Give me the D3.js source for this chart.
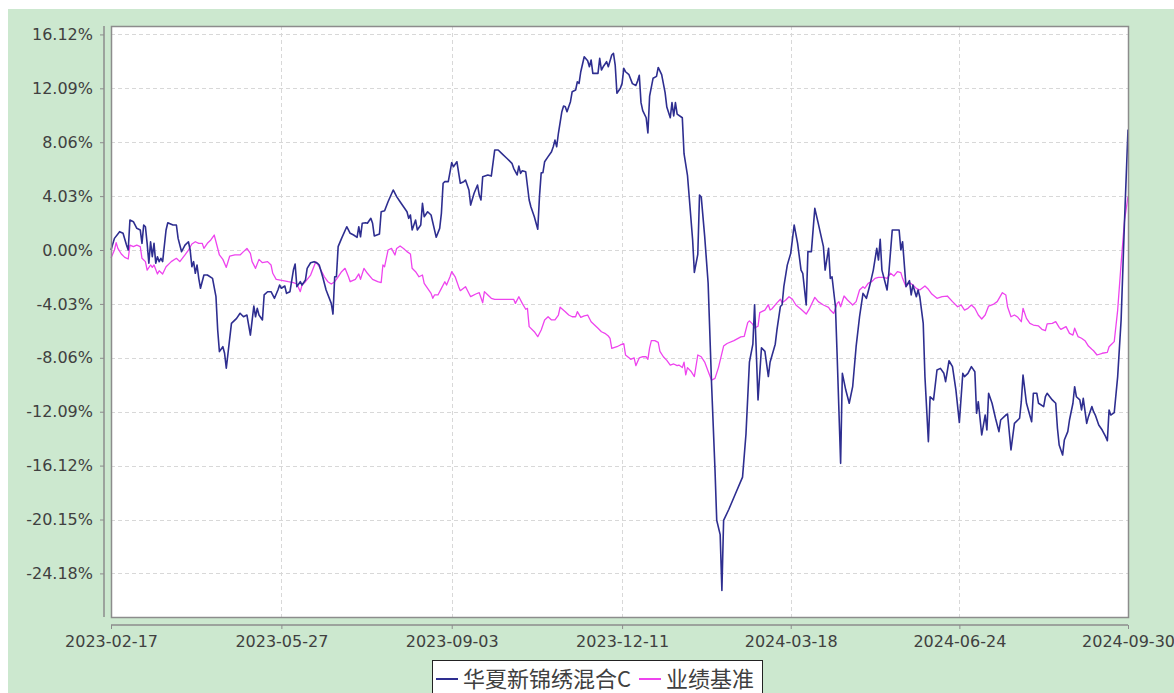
<!DOCTYPE html>
<html>
<head>
<meta charset="utf-8">
<script src="https://cdn.jsdelivr.net/npm/d3@7"></script>
<style>
  html, body { margin: 0; padding: 0; background: #fff; }
  svg { display: block; }
</style>
</head>
<body>
<svg id="chart" width="1174" height="693"></svg>
<script>
// series: [day offset from start, return %]
var startDate = '2023-02-17';
var endDate = '2024-09-30';
var seriesNames = ['华夏新锦绣混合C', '业绩基准'];
var yTicks = [16.12, 12.09, 8.06, 4.03, 0, -4.03, -8.06, -12.09, -16.12, -20.15, -24.18];
var xTickLabels = ['2023-02-17', '2023-05-27', '2023-09-03', '2023-12-11', '2024-03-18', '2024-06-24', '2024-09-30'];

var fundPoints = [
  [0,0.0],[2,0.87],[5,1.37],[7,1.25],[9,0.37],[10,0],[11,2.24],[13,2.12],[15,1.62],[17,1.5],
  [18,0.5],[19,1.87],[20,1.74],[21,0.5],[22,-0.99],[23,0.62],[24,-0.5],[25,0.5],[26,-0.99],[27,-0.5],
  [28,-0.87],[29,-0.62],[30,-0.87],[32,1.5],[33,2.04],[36,1.87],[38,1.87],[39,0.87],[41,-0.13],[43,0.37],
  [45,0.62],[46,0],[47,-1.25],[48,-0.87],[49,-1.74],[50,-1.12],[51,-2.12],[52,-2.86],[54,-1.87],[56,-1.87],
  [59,-2.12],[61,-3.49],[62,-5.98],[63,-7.6],[65,-7.23],[66,-7.72],[67,-8.84],[68,-7.72],[70,-5.48],[73,-5.11],
  [75,-4.73],[77,-4.99],[79,-4.86],[81,-6.36],[83,-4.19],[84,-4.99],[85,-4.36],[86,-4.86],[88,-5.23],[89,-3.36],
  [91,-3.12],[93,-3.12],[95,-3.61],[97,-2.99],[98,-2.62],[99,-2.86],[101,-2.69],[102,-3.24],[104,-3.12],[106,-1.5],
  [107,-1.05],[108,-2.74],[110,-2.37],[111,-2.62],[113,-2.24],[114,-1.37],[116,-0.95],[118,-0.87],[120,-0.99],[121,-1.12],
  [123,-2.0],[125,-2.99],[128,-3.99],[129,-4.79],[130,-2.0],[131,-2.0],[132,0.25],[134,0.87],[137,1.74],[139,1.25],
  [141,1.12],[143,0.95],[144,1.74],[145,0.99],[146,2.0],[148,2.04],[149,2.0],[151,2.37],[152,2.0],[153,1.05],
  [156,1.2],[157,2.86],[159,2.94],[161,3.61],[164,4.49],[166,3.99],[168,3.61],[170,3.24],[172,2.86],[173,2.37],
  [174,2.62],[175,1.5],[177,2.24],[178,1.5],[180,1.87],[181,3.49],[182,2.49],[184,2.86],[186,2.62],[189,0.95],
  [191,1.62],[192,2.74],[193,4.99],[194,5.11],[196,5.11],[198,6.53],[199,6.23],[201,6.6],[203,4.99],[205,5.11],
  [206,5.23],[208,4.49],[209,3.36],[211,4.24],[213,4.86],[214,4.11],[215,3.74],[216,5.48],[219,5.61],[221,5.53],
  [223,7.48],[225,7.48],[227,7.23],[230,6.86],[233,6.48],[234,6.11],[236,5.61],[237,6.28],[238,5.73],[239,5.93],
  [241,5.85],[243,3.74],[244,3.24],[246,2.49],[248,1.55],[249,3.99],[250,5.78],[251,5.78],[252,6.6],[254,6.98],
  [256,7.35],[257,7.72],[258,8.22],[259,7.72],[260,8.73],[262,10.34],[263,10.77],[264,10.71],[265,10.34],[267,11.09],
  [268,11.84],[270,11.96],[271,12.58],[272,12.46],[273,13.33],[275,14.45],[277,14.15],[278,13.7],[279,14.21],[280,13.21],
  [283,13.21],[284,14.33],[285,13.46],[286,13.7],[288,14.08],[289,13.7],[291,14.58],[292,14.71],[293,13.83],[294,11.72],
  [296,12.09],[297,12.46],[298,13.58],[299,13.33],[301,13.11],[303,12.44],[305,12.3],[306,12.63],[307,13.06],[308,11.02],
  [309,10.42],[311,9.89],[312,8.76],[313,11.5],[315,12.84],[317,12.98],[318,13.65],[320,13.11],[322,11.77],[323,10.69],
  [325,9.89],[326,11.02],[327,10.02],[328,11.02],[329,10.16],[332,9.89],[333,7.2],[335,5.59],[336,3.98],[338,0.75],
  [339,-1.67],[341,-0.32],[342,4.11],[343,3.97],[345,1.02],[347,-2.47],[349,-10.0],[351,-16.45],[352,-20.21],[354,-21.28],
  [355,-25.45],[356,-20.21],[359,-19.4],[363,-18.19],[367,-16.98],[369,-13.76],[371,-8.39],[373,-7.04],[374,-4.09],[376,-11.21],
  [378,-7.31],[380,-7.58],[382,-9.46],[383,-8.39],[386,-7.04],[387,-5.97],[389,-4.22],[390,-4.09],[391,-2.74],[393,-1.13],
  [395,-0.25],[397,1.87],[399,0.5],[401,-1.5],[402,-1.74],[404,-4.11],[405,-0.12],[407,-0.12],[409,3.11],[411,1.99],
  [414,0.25],[415,-1.5],[417,0.12],[418,-2.12],[419,-2.0],[421,-4.24],[422,-7.98],[424,-15.95],[425,-9.22],[427,-10.47],
  [429,-11.46],[431,-10.22],[433,-7.23],[435,-4.99],[437,-3.24],[439,-3.61],[441,-2.62],[443,-1.5],[445,0.12],[446,-0.75],
  [447,0.8],[448,-1.5],[451,-2.99],[452,-1.74],[454,1.5],[458,1.5],[459,0],[460,0.62],[462,-2.74],[464,-2.29],
  [465,-3.36],[466,-2.62],[468,-3.49],[469,-2.99],[470,-3.49],[472,-5.48],[473,-9.47],[475,-14.33],[476,-10.97],[478,-11.21],
  [480,-8.97],[482,-8.85],[484,-9.22],[485,-9.84],[487,-8.28],[489,-8.72],[491,-10.47],[493,-12.9],[495,-9.22],[496,-9.47],
  [498,-9.22],[500,-8.72],[502,-9.1],[503,-12.21],[504,-11.34],[506,-13.83],[508,-12.34],[509,-13.46],[510,-10.71],[512,-11.46],
  [514,-12.58],[516,-13.58],[517,-12.71],[520,-12.34],[521,-12.26],[523,-14.95],[525,-12.96],[528,-12.58],[529,-11.34],[530,-9.35],
  [532,-11.46],[535,-12.84],[536,-10.71],[538,-10.71],[539,-11.46],[542,-11.71],[543,-10.97],[544,-10.71],[547,-11.21],[549,-11.46],
  [550,-13.33],[551,-14.58],[553,-15.33],[554,-14.21],[556,-13.58],[557,-12.71],[559,-11.46],[560,-10.22],[561,-10.97],[563,-11.21],
  [564,-11.96],[565,-11.09],[567,-12.96],[568,-12.46],[570,-11.71],[571,-12.09],[572,-12.34],[574,-13.08],[576,-13.46],[578,-13.96],
  [579,-14.26],[580,-11.96],[581,-12.34],[583,-12.16],[585,-9.47],[587,-5.23],[589,2.24],[591,9.0]
];

var benchPoints = [
  [0,-0.6],[2,0],[3,0.55],[4,0.12],[6,-0.3],[8,-0.55],[10,-0.67],[11,0.37],[13,0.25],[15,0.37],
  [17,0.25],[18,-0.62],[20,-0.87],[21,-1.5],[23,-1.12],[24,-1.3],[25,-1.12],[27,-1.79],[28,-1.55],[30,-1.79],
  [32,-1.25],[34,-1.0],[35,-0.87],[38,-0.62],[40,-0.87],[43,-0.37],[45,0],[47,0.45],[49,0.62],[51,0.5],
  [53,0.5],[54,0.12],[56,0.5],[58,0.75],[60,1.12],[61,0.62],[63,-0.37],[65,-0.7],[67,-1.3],[69,-0.45],
  [72,-0.37],[75,-0.37],[77,-0.12],[79,0.12],[81,-0.25],[82,-0.87],[84,-1.37],[86,-0.7],[88,-0.95],[91,-0.87],
  [93,-1.12],[94,-1.74],[96,-2.19],[100,-2.29],[103,-2.37],[106,-2.44],[108,-2.54],[110,-3.11],[111,-2.62],[113,-2.37],
  [116,-1.87],[119,-0.87],[121,-1.25],[124,-2.0],[126,-2.37],[128,-2.54],[130,-2.37],[132,-2.0],[134,-1.62],[136,-1.37],
  [138,-2.0],[139,-2.37],[142,-2.19],[144,-1.79],[145,-2.19],[147,-1.37],[149,-1.74],[152,-2.19],[155,-2.37],[157,-2.44],
  [158,-1.12],[159,-1.25],[161,0],[163,0.12],[165,-0.37],[166,0.12],[168,0.3],[170,0.12],[172,-0.12],[174,-0.3],
  [175,-1.37],[177,-1.62],[179,-2.0],[181,-1.87],[182,-2.49],[184,-2.87],[186,-3.24],[187,-3.61],[188,-3.36],[190,-3.36],
  [192,-2.87],[194,-2.37],[195,-2.62],[197,-2.0],[198,-1.62],[200,-2.0],[202,-2.74],[203,-3.04],[206,-2.74],[207,-2.99],
  [209,-3.49],[212,-3.29],[214,-3.19],[216,-3.94],[217,-3.11],[219,-3.36],[221,-3.61],[223,-3.69],[234,-3.69],[235,-3.99],
  [237,-3.49],[239,-3.99],[241,-4.43],[242,-4.36],[243,-5.73],[246,-6.11],[248,-6.48],[250,-5.98],[252,-5.23],[254,-4.99],
  [256,-5.23],[258,-5.23],[260,-4.86],[261,-4.28],[264,-4.61],[266,-4.86],[268,-4.99],[270,-4.99],[271,-4.61],[273,-5.03],
  [275,-4.93],[277,-4.86],[279,-5.36],[281,-5.61],[283,-5.85],[285,-6.11],[287,-6.23],[289,-6.43],[290,-6.6],[291,-7.35],
  [294,-7.23],[296,-7.1],[298,-7.0],[299,-7.85],[301,-8.06],[302,-8.17],[304,-8.06],[305,-8.65],[307,-8.06],[309,-7.98],
  [311,-7.98],[312,-8.17],[313,-7.31],[314,-6.77],[316,-6.77],[318,-6.91],[319,-7.58],[321,-7.98],[323,-8.25],[325,-8.6],
  [327,-8.52],[329,-8.65],[330,-8.6],[332,-8.79],[333,-8.38],[334,-9.33],[335,-8.79],[337,-9.06],[339,-9.46],[341,-7.85],
  [343,-7.98],[345,-8.38],[347,-9.06],[349,-9.73],[351,-9.6],[353,-8.79],[356,-7.18],[358,-6.99],[362,-6.77],[366,-6.5],
  [368,-6.45],[370,-5.43],[371,-5.3],[373,-5.56],[374,-5.83],[376,-5.7],[377,-4.68],[380,-4.49],[382,-4.09],[383,-4.49],
  [384,-4.41],[387,-3.95],[389,-3.68],[390,-3.95],[392,-3.76],[394,-3.49],[396,-3.68],[398,-4.11],[401,-4.43],[404,-4.79],
  [406,-4.36],[409,-3.54],[411,-3.86],[414,-4.11],[417,-4.29],[418,-4.49],[420,-4.74],[422,-3.99],[423,-3.86],[424,-4.24],
  [426,-3.44],[428,-3.74],[431,-4.11],[433,-3.86],[435,-2.99],[437,-2.74],[438,-2.87],[440,-2.49],[442,-2.37],[444,-2.12],
  [446,-2.04],[449,-2.04],[451,-2.12],[453,-1.74],[455,-1.94],[457,-1.62],[459,-1.69],[460,-2.12],[462,-2.74],[464,-2.44],
  [466,-2.62],[468,-2.87],[470,-2.99],[473,-2.69],[475,-2.94],[477,-3.29],[480,-3.61],[483,-3.49],[486,-3.44],[489,-3.86],
  [492,-4.24],[494,-4.11],[496,-4.49],[498,-4.36],[500,-4.11],[502,-4.36],[504,-4.86],[506,-5.16],[508,-4.86],[510,-4.19],
  [513,-4.04],[515,-3.86],[518,-3.19],[520,-3.36],[521,-4.24],[523,-4.99],[525,-4.86],[527,-5.03],[529,-5.36],[530,-4.36],
  [532,-5.11],[534,-5.48],[536,-5.61],[539,-5.68],[541,-5.93],[543,-6.03],[544,-5.53],[547,-5.48],[549,-5.36],[551,-5.78],
  [552,-5.93],[555,-5.73],[557,-6.23],[559,-6.36],[560,-5.85],[562,-6.48],[564,-6.6],[566,-6.78],[568,-7.18],[570,-7.42],
  [571,-7.53],[573,-7.85],[576,-7.72],[579,-7.65],[580,-7.23],[581,-7.1],[583,-6.85],[585,-4.49],[587,-1.0],[589,2.24],
  [591,4.0]
];

var W = 1174, H = 693;
var plot = { left: 111, top: 26, right: 1128, bottom: 617 };
var bg = '#cce8cf';
var fundColor = '#2e2e90';
var benchColor = '#ee44ee';
var textColor = '#404040';

var svg = d3.select('#chart');
var parse = d3.timeParse('%Y-%m-%d');
var t0 = parse(startDate);
var toDate = function(d) { return d3.timeDay.offset(t0, d); };

var x = d3.scaleTime().domain([t0, parse(endDate)]).range([plot.left, plot.right]);
var y = d3.scaleLinear().domain([-27.44, 16.75]).range([plot.bottom, plot.top]);

svg.append('rect').attr('width', W).attr('height', H).attr('fill', '#fff');
svg.append('rect').attr('x', 8).attr('y', 9).attr('width', W - 8).attr('height', H - 9).attr('fill', bg);

svg.append('rect')
  .attr('x', plot.left).attr('y', plot.top)
  .attr('width', plot.right - plot.left).attr('height', plot.bottom - plot.top)
  .attr('fill', '#fff');

// grid
var grid = svg.append('g').attr('stroke', '#d8d8d8').attr('stroke-dasharray', '4,3').attr('stroke-width', 1);
grid.selectAll('line.h').data(yTicks).enter().append('line')
  .attr('x1', plot.left).attr('x2', plot.right)
  .attr('y1', function(d) { return Math.round(y(d)) + 0.5; })
  .attr('y2', function(d) { return Math.round(y(d)) + 0.5; });
grid.selectAll('line.v').data(xTickLabels).enter().append('line')
  .attr('y1', plot.top).attr('y2', plot.bottom)
  .attr('x1', function(d) { return Math.round(x(parse(d))) + 0.5; })
  .attr('x2', function(d) { return Math.round(x(parse(d))) + 0.5; });

// lines
var line = d3.line()
  .x(function(d) { return x(toDate(d[0])); })
  .y(function(d) { return y(d[1]); });

svg.append('path').datum(benchPoints)
  .attr('fill', 'none').attr('stroke', benchColor).attr('stroke-width', 1.3)
  .attr('stroke-linejoin', 'round').attr('d', line);
svg.append('path').datum(fundPoints)
  .attr('fill', 'none').attr('stroke', fundColor).attr('stroke-width', 1.6)
  .attr('stroke-linejoin', 'round').attr('d', line);

// plot frame
svg.append('rect')
  .attr('x', plot.left + 0.5).attr('y', plot.top + 0.5)
  .attr('width', plot.right - plot.left).attr('height', plot.bottom - plot.top)
  .attr('fill', 'none').attr('stroke', '#8c8c8c').attr('stroke-width', 1.5);

// axes
var yAxis = d3.axisLeft(y).tickValues(yTicks).tickSize(4).tickPadding(7)
  .tickFormat(function(d) { return d.toFixed(2) + '%'; });
var gy = svg.append('g').attr('transform', 'translate(104,0)').call(yAxis);
gy.select('.domain').attr('d', 'M0,' + plot.top + 'V' + plot.bottom);

var xAxis = d3.axisBottom(x).tickValues(xTickLabels.map(parse)).tickSize(4).tickPadding(7)
  .tickFormat(d3.timeFormat('%Y-%m-%d'));
var gx = svg.append('g').attr('transform', 'translate(0,625)').call(xAxis);
gx.select('.domain').attr('d', 'M' + plot.left + ',0H' + plot.right);

[gx, gy].forEach(function(g) {
  g.select('.domain').attr('stroke', '#8c8c8c').attr('stroke-width', 1.5);
  g.selectAll('.tick line').attr('stroke', '#8c8c8c');
  g.selectAll('.tick text').attr('fill', textColor)
    .style('font-family', '"DejaVu Sans", Verdana, sans-serif').style('font-size', '16px');
});

// legend
var legend = svg.append('g');
legend.append('rect').attr('x', 432.5).attr('y', 660.5).attr('width', 330).attr('height', 34)
  .attr('fill', '#fff').attr('stroke', '#222').attr('stroke-width', 1);
var items = [
  { name: seriesNames[0], color: fundColor, x: 436 },
  { name: seriesNames[1], color: benchColor, x: 639 }
];
items.forEach(function(it) {
  legend.append('line').attr('x1', it.x).attr('x2', it.x + 22).attr('y1', 679).attr('y2', 679)
    .attr('stroke', it.color).attr('stroke-width', 2);
  legend.append('text').attr('x', it.x + 27).attr('y', 687).text(it.name)
    .attr('fill', textColor)
    .style('font-family', '"Noto Sans CJK SC", sans-serif').style('font-size', '22px');
});
</script>
</body>
</html>
